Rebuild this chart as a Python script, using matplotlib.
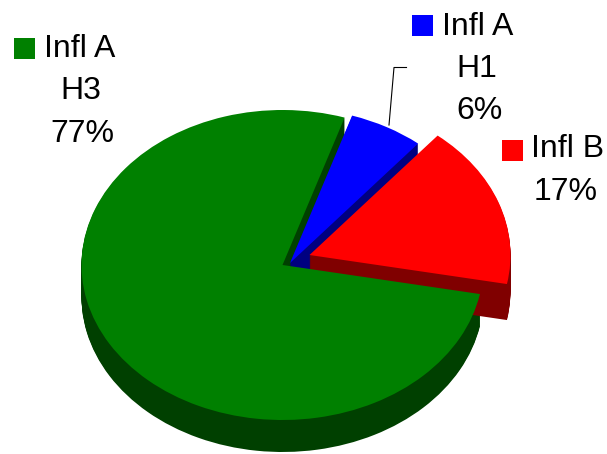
import matplotlib
matplotlib.use('Agg')
import matplotlib.pyplot as plt
from matplotlib.patches import Rectangle

# slices, same order as they go round the pie
labels = ['Infl A\nH3', 'Infl B', 'Infl A\nH1']
values = [77, 17, 6]
colours = ['#008000', '#ff0000', '#0000ff']
sides = ['#004000', '#800000', '#000080']

W, H = 607, 454
RX, RY = 201.0, 155.0   # pie radius in pixels, squashed to look tilted
CX, CY = 282.5, 265.0   # pie centre in pixels from top left
DEPTH = 32
START = 72

plt.rcParams['font.family'] = ['Liberation Sans', 'DejaVu Sans']

fig = plt.figure(figsize=(W / 100, H / 100), dpi=100)
ax = fig.add_axes([0, 0, 1, 1])


# draw one slice only, the others stay invisible
def drawSlice(i, colour, dx, dy):
    cols = ['none'] * len(values)
    cols[i] = colour
    ax.pie(values, colors=cols, startangle=START, radius=1,
           center=(dx / RX, -dy / RY), wedgeprops={'linewidth': 0})


# side wall is the same slice stacked downwards a pixel at a time
def drawSide(i, dx, dy, depth=DEPTH):
    for d in range(depth, 0, -1):
        drawSlice(i, sides[i], dx, dy + d)


# back to front: green wall, blue, red, then green top goes over everything
drawSide(0, 0, 0)
drawSide(2, 7.5, -2)
drawSlice(2, colours[2], 7.5, -2)
drawSide(1, 27, -10, 36)
drawSlice(1, colours[1], 27, -10)
drawSlice(0, colours[0], 0, 0)

ax.set_aspect('auto')
ax.set_xlim(-CX / RX, (W - CX) / RX)
ax.set_ylim(-(H - CY) / RY, CY / RY)

# overlay in pixel coordinates for the labels
top = fig.add_axes([0, 0, 1, 1])
top.set_xlim(0, W)
top.set_ylim(H, 0)
top.axis('off')
top.patch.set_alpha(0)

keys = [(14, 38), (502, 140), (412, 15)]
for k, c in zip(keys, colours):
    top.add_patch(Rectangle(k, 21, 21, facecolor=c, edgecolor='none'))

fs = 23
txt = [(80, 49, 'Infl A'), (81, 91, 'H3'), (82, 134, '77%'),
       (478, 27, 'Infl A'), (477, 69, 'H1'), (479, 111, '6%'),
       (568, 149, 'Infl B'), (566, 192, '17%')]
for x, y, s in txt:
    top.text(x, y, s, fontsize=fs, ha='center', va='center', color='black')

# leader line to the blue slice
top.plot([406.5, 394, 389], [67.5, 67.5, 125], color='black', lw=0.8)

fig.savefig('out.png', dpi=100)
